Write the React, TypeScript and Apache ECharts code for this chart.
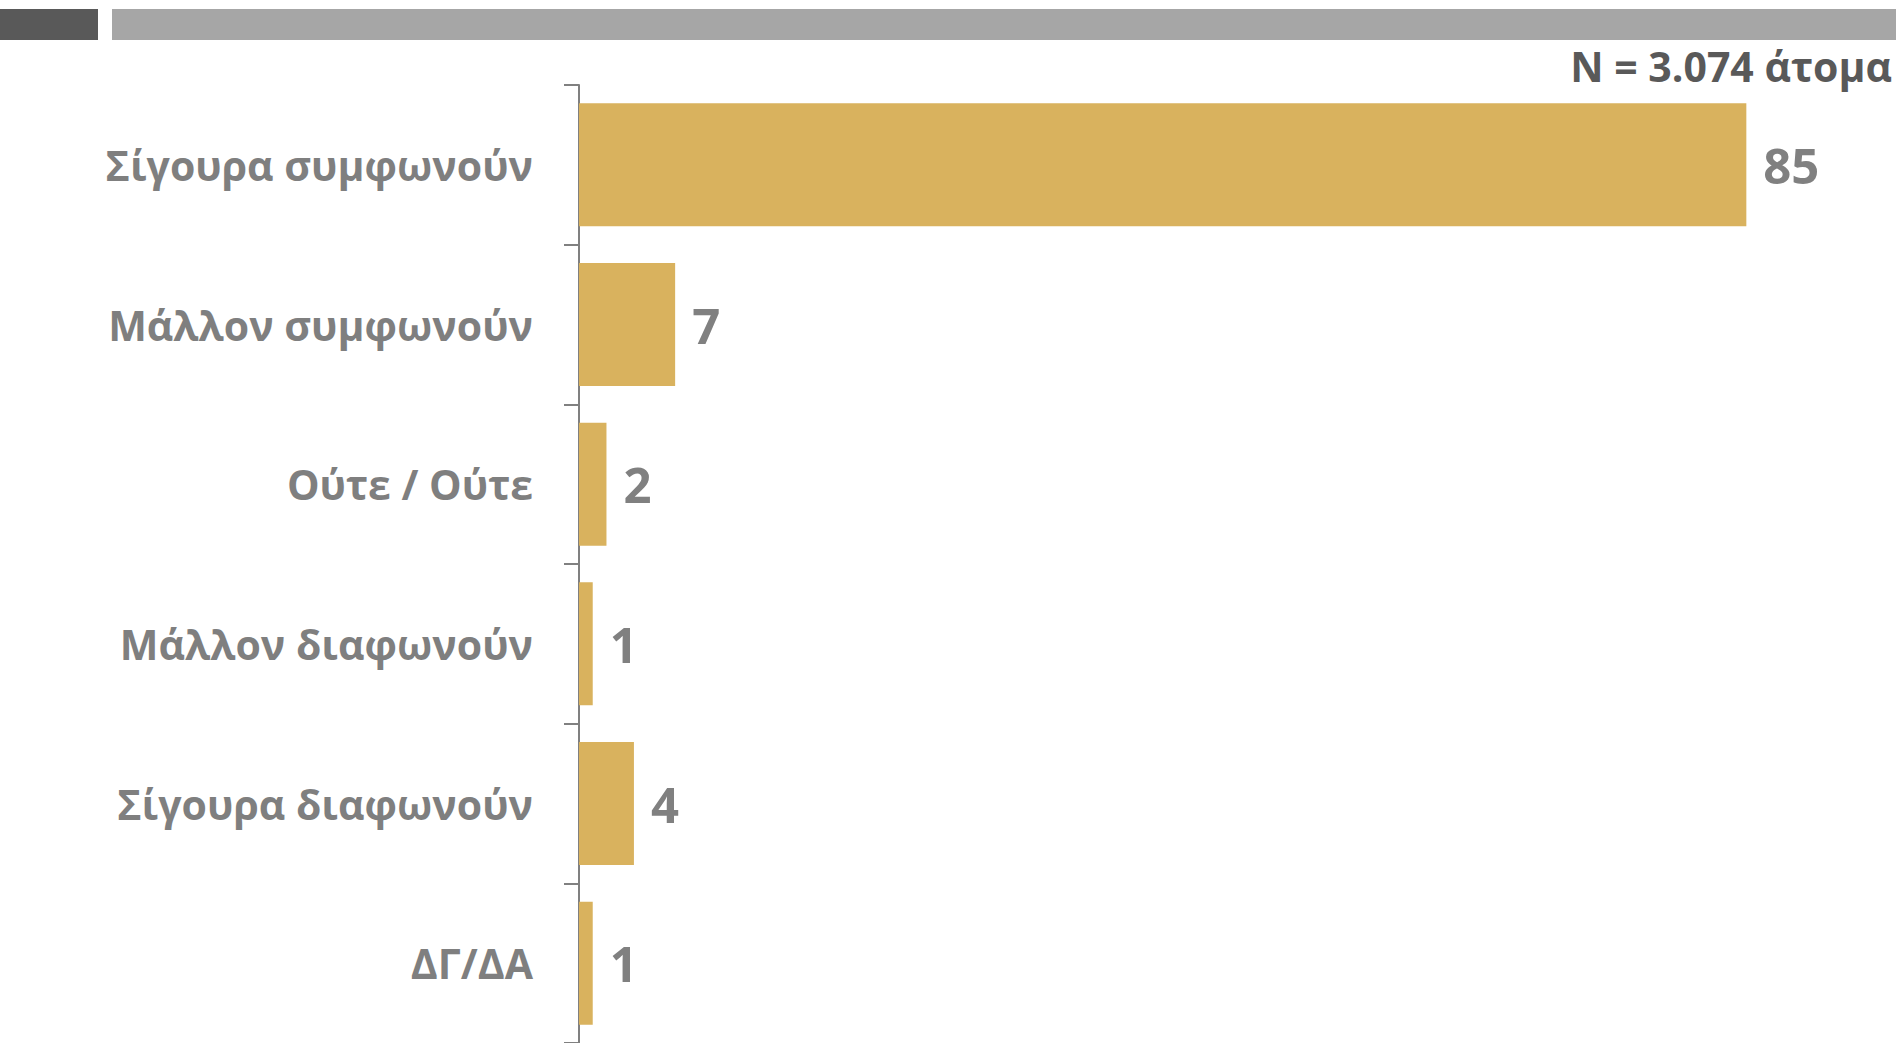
import React, { useEffect, useRef } from "react";
import * as echarts from "echarts";

const categories = [
  "Σίγουρα συμφωνούν",
  "Μάλλον συμφωνούν",
  "Ούτε / Ούτε",
  "Μάλλον διαφωνούν",
  "Σίγουρα διαφωνούν",
  "ΔΓ/ΔΑ",
];
const values = [85, 7, 2, 1, 4, 1];
const sampleNote = "N = 3.074 άτομα";

const FONT = "'Open Sans', sans-serif";

export default function App() {
  const ref = useRef<HTMLDivElement>(null);
  useEffect(() => {
    if (!ref.current) return;
    const chart = echarts.init(ref.current, null, { renderer: "svg" });
    chart.setOption({
      animation: false,
      backgroundColor: "#ffffff",
      graphic: [
        { type: "rect", shape: { x: 0, y: 9, width: 98, height: 31 }, style: { fill: "#595959" } },
        { type: "rect", shape: { x: 112, y: 9, width: 1784, height: 31 }, style: { fill: "#a6a6a6" } },
        {
          type: "text",
          x: 1892,
          y: 86,
          style: {
            text: sampleNote,
            fill: "#595959",
            font: `bold 41px ${FONT}`,
            textAlign: "right",
            textVerticalAlign: "bottom",
          },
        },
      ],
      grid: { left: 579, top: 85, width: 1236, height: 960, containLabel: false },
      xAxis: {
        type: "value",
        min: 0,
        max: 90,
        show: false,
      },
      yAxis: {
        type: "category",
        data: categories,
        inverse: true,
        axisLine: { show: true, lineStyle: { color: "#808080", width: 2 } },
        axisTick: { show: true, length: 15, lineStyle: { color: "#808080", width: 2 } },
        axisLabel: {
          margin: 46,
          color: "#7f7f7f",
          fontFamily: FONT,
          fontWeight: "bold",
          fontSize: 41,
        },
        splitLine: { show: false },
      },
      series: [
        {
          type: "bar",
          data: values,
          barCategoryGap: "23%",
          itemStyle: { color: "#d9b25e" },
          label: {
            show: true,
            position: "right",
            distance: 17,
            color: "#808080",
            fontFamily: FONT,
            fontWeight: "bold",
            fontSize: 49,
          },
        },
      ],
    });
    return () => chart.dispose();
  }, []);
  return (
    <div
      ref={ref}
      style={{ position: "fixed", left: 0, top: 0, width: 1896, height: 1043 }}
    />
  );
}
